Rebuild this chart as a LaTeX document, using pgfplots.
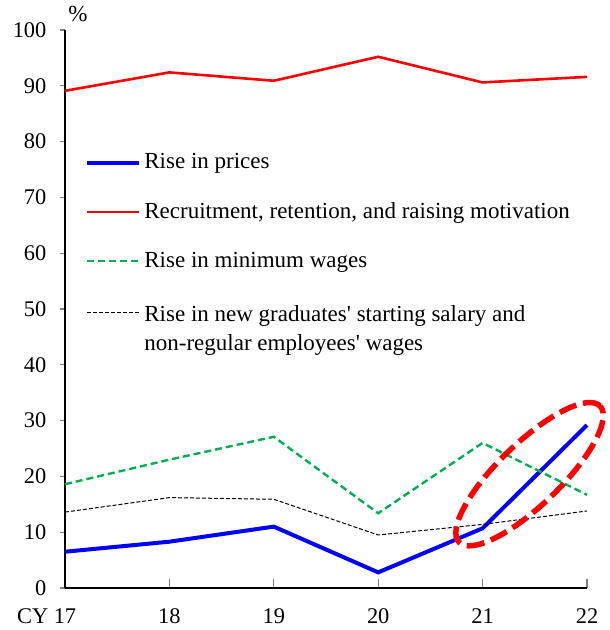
\documentclass[border=0pt]{standalone}
\usepackage{fontspec}
\setmainfont{Liberation Serif}
\usepackage{pgfplots}
\pgfplotsset{compat=1.18}

\definecolor{pricesblue}{RGB}{0,0,255}
\definecolor{recred}{RGB}{255,0,0}
\definecolor{minwgreen}{RGB}{0,176,80}

\begin{document}
\begin{tikzpicture}
\begin{axis}[
  name=ax,
  scale only axis,
  width=261pt, height=279pt,
  xmin=0, xmax=5,
  ymin=0, ymax=100,
  axis x line=bottom, axis y line=left,
  axis line style={-, line width=0.55pt},
  xtick={0,1,2,3,4,5},
  xticklabels={\llap{CY }17,18,19,20,21,22},
  ytick={0,10,...,100},
  xtick align=inside, ytick align=outside,
  xtick style={line width=0.55pt, /pgfplots/major tick length=4.5pt},
  ytick style={line width=0.55pt, /pgfplots/major tick length=2.5pt},
  tick label style={font=\fontsize{11.2}{13}\selectfont},
  /pgf/number format/assume math mode=true,
  xticklabel style={yshift=-7pt},
  yticklabel style={xshift=-1.5pt},
  legend cell align=left,
  legend style={draw=none, fill=none, inner sep=0pt,
    at={(rel axis cs:0,1)}, anchor=north west, xshift=10pt, yshift=-60pt,
    font=\fontsize{11.5}{14.5}\selectfont, row sep=12.4pt,
    nodes={inner sep=1.5pt}},
  legend image code/.code={\draw[#1] (0pt,0pt) -- (26pt,0pt);},
  clip=false,
]
\addplot[pricesblue, line width=2pt] coordinates {
  (0,6.5) (1,8.3) (2,11.0) (3,2.8) (4,10.7) (5,29.2)
};
\addlegendentry{Rise in prices}
\addplot[recred, line width=1.3pt] coordinates {
  (0,89.1) (1,92.4) (2,90.9) (3,95.2) (4,90.6) (5,91.6)
};
\addlegendentry{Recruitment, retention, and raising motivation}
\addplot[minwgreen, line width=1.2pt, dash pattern=on 3.5pt off 2pt] coordinates {
  (0,18.6) (1,23.0) (2,27.1) (3,13.4) (4,26.0) (5,16.7)
};
\addlegendentry{Rise in minimum wages}
\addplot[black, line width=0.5pt, dash pattern=on 2pt off 1pt] coordinates {
  (0,13.6) (1,16.2) (2,15.9) (3,9.5) (4,11.4) (5,13.8)
};
\addlegendentry{\raisebox{0pt}[\height][\dp\strutbox]{\begin{tabular}[t]{@{}l@{}}Rise in new graduates\textquotesingle\ starting salary and\\non-regular employees\textquotesingle\ wages\end{tabular}}}
\draw[recred, line width=2.75pt, dash pattern=on 9pt off 3.5pt,
  rotate around={44:(axis cs:4.45,20.4)}]
  (axis cs:4.45,20.4) ellipse [x radius=49pt, y radius=15.5pt];
\node[anchor=south west, font=\fontsize{11.5}{13}\selectfont, inner sep=0pt]
  at ([xshift=1.5pt,yshift=4pt]rel axis cs:0,1) {\%};
\end{axis}
\pgfresetboundingbox
\path ([xshift=-32.5pt,yshift=-21pt]ax.south west) rectangle ([xshift=11.5pt,yshift=15pt]ax.north east);
\end{tikzpicture}
\end{document}
